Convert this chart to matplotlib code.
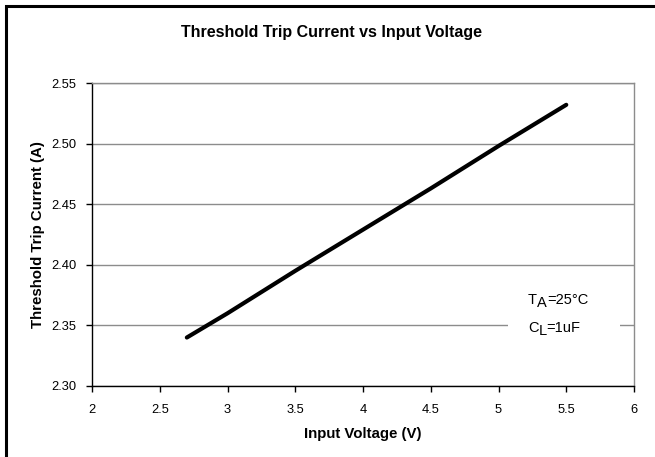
import matplotlib
matplotlib.use("Agg")
import matplotlib.pyplot as plt
from matplotlib.patches import Rectangle

plt.rcParams['font.family'] = ['Liberation Sans', 'DejaVu Sans']

voltage = [2.7, 3.0, 3.5, 4.0, 4.5, 5.0, 5.5]
current = [2.340, 2.360, 2.395, 2.429, 2.463, 2.498, 2.532]
x_ticks = [2, 2.5, 3, 3.5, 4, 4.5, 5, 5.5, 6]
x_tick_labels = ["2", "2.5", "3", "3.5", "4", "4.5", "5", "5.5", "6"]
y_ticks = [2.30, 2.35, 2.40, 2.45, 2.50, 2.55]
y_tick_labels = ["2.30", "2.35", "2.40", "2.45", "2.50", "2.55"]

W, H = 655, 457
fig = plt.figure(figsize=(W / 100, H / 100), dpi=100)
ax = fig.add_axes([92 / W, 1 - 386 / H, (634 - 92) / W, (386 - 83) / H])

ax.set_xlim(2, 6)
ax.set_ylim(2.30, 2.55)
ax.set_xticks(x_ticks)
ax.set_xticklabels(x_tick_labels)
ax.set_yticks(y_ticks)
ax.set_yticklabels(y_tick_labels)
ax.grid(axis='y', color='#8c8c8c', linewidth=1.0, zorder=0.5)
ax.set_axisbelow(True)

for s in ['top', 'right']:
    ax.spines[s].set_color('#8c8c8c')
    ax.spines[s].set_linewidth(1.0)
for s in ['left', 'bottom']:
    ax.spines[s].set_color('black')
    ax.spines[s].set_linewidth(1.0)

ax.tick_params(axis='both', direction='out', length=4, width=1, labelsize=9.3,
               colors='black')
ax.tick_params(axis='x', pad=9)
ax.tick_params(axis='y', pad=7)

ax.plot(voltage, current, color='black', linewidth=3, solid_capstyle='round', zorder=3)

ax.set_xlabel("Input Voltage (V)", fontsize=10.8, fontweight='bold', labelpad=8)
ax.set_ylabel("Threshold Trip Current (A)", fontsize=10.8, fontweight='bold', labelpad=5)

fig.text(331.5 / W, 1 - 33 / H, "Threshold Trip Current vs Input Voltage",
         ha='center', va='center', fontsize=11.5, fontweight='bold')

# white gap in the 2.35 gridline behind the annotation
ax.add_patch(Rectangle((5.07, 2.346), 0.83, 0.008, facecolor='white',
                       edgecolor='none', zorder=1))


def sub_label(x, y, main, sub, rest, size=10.5):
    t1 = ax.text(x, y, main, ha='left', va='center', fontsize=size, zorder=4)
    t2 = ax.annotate(sub, xy=(1, 0), xycoords=t1, xytext=(0, -2.5),
                     textcoords='offset points', ha='left', va='bottom',
                     fontsize=size, zorder=4)
    ax.annotate(rest, xy=(1, 0), xycoords=t1, xytext=(t2.get_window_extent(
        fig.canvas.get_renderer()).width * 72 / fig.dpi, 0),
        textcoords='offset points', ha='left', va='bottom', fontsize=size, zorder=4)


sub_label(5.218, 2.371, "T", "A", "=25°C")
sub_label(5.218, 2.348, "C", "L", "=1uF")

fig.patches.append(Rectangle((6 / W, -0.1), 1.2, 1 - 6 / H + 0.1,
                             transform=fig.transFigure, fill=False,
                             edgecolor='black', linewidth=2.2))

fig.savefig("out.png", dpi=100)
